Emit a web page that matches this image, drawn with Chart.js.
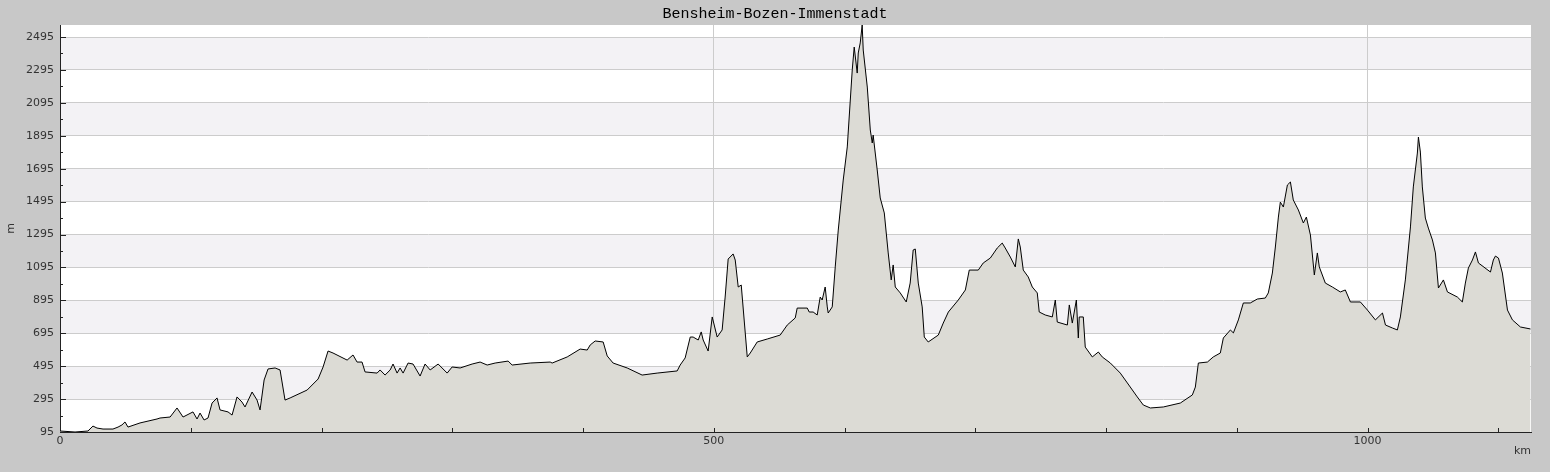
<!DOCTYPE html>
<html>
<head>
<meta charset="utf-8">
<title>Bensheim-Bozen-Immenstadt</title>
<script src="https://cdn.jsdelivr.net/npm/chart.js@4/dist/chart.umd.min.js"></script>
<style>
  html, body { margin: 0; padding: 0; background: #c8c8c8; }
  #wrap { width: 1550px; height: 472px; }
</style>
</head>
<body>
<div id="wrap"><canvas id="profile" width="1550" height="472"></canvas></div>
<script>
// distance along the route (km) and elevation (m)
const distKm = [
  0, 11.5, 21.4, 25.2, 28.3, 32.9, 40.5, 44.4, 47.4, 49.7, 52.0, 61.2, 74.2, 76.5, 84.2, 89.5,
  94.1, 101.7, 104.8, 107.1, 110.2, 113.2, 116.3, 120.1, 122.4, 128.5, 131.6, 135.4, 139.2, 141.5,
  146.9, 150.7, 153.0, 156.1, 159.1, 164.5, 168.3, 172.1, 176.0, 189.0, 197.4, 201.2, 205.0, 208.8,
  219.6, 224.1, 227.2, 231.0, 233.3, 242.5, 244.8, 248.6, 252.5, 254.7, 257.8, 260.1, 262.4, 266.2,
  270.0, 275.4, 279.2, 283.1, 289.2, 296.1, 299.9, 306.0, 315.2, 321.3, 326.7, 332.8, 342.7, 345.8,
  359.6, 374.9, 376.4, 387.9, 397.8, 403.2, 405.5, 409.3, 415.4, 418.5, 423.0, 433.8, 445.2, 456.7,
  472.0, 474.3, 478.1, 482.0, 484.2, 488.1, 490.4, 491.9, 495.7, 498.8, 502.6, 506.4, 508.7, 511.0,
  514.8, 516.4, 518.7, 521.0, 525.6, 527.9, 533.2, 540.9, 550.8, 556.2, 562.3, 563.8, 571.5, 573.0,
  576.0, 579.1, 581.4, 582.9, 585.2, 586.8, 587.5, 590.6, 592.9, 595.2, 599.0, 602.1, 605.9, 607.4,
  609.7, 610.5, 612.0, 613.5, 614.3, 617.4, 619.7, 621.2, 621.9, 625.0, 627.3, 630.4, 633.4, 635.7,
  637.2, 638.8, 642.6, 647.2, 650.2, 652.5, 654.1, 656.4, 659.4, 661.0, 664.0, 671.7, 675.5, 679.4,
  687.0, 692.4, 695.4, 702.3, 706.1, 711.5, 716.8, 720.6, 722.9, 726.8, 730.6, 732.9, 734.4, 736.7,
  740.5, 743.6, 747.4, 748.9, 753.5, 758.9, 761.2, 762.7, 770.4, 771.9, 774.2, 777.3, 778.8, 779.5,
  782.6, 784.1, 789.5, 794.1, 797.1, 803.3, 810.9, 816.3, 823.9, 828.5, 833.9, 843.8, 856.8, 866.0,
  868.3, 870.6, 877.5, 882.0, 887.4, 889.7, 895.1, 897.4, 901.2, 905.0, 910.3, 915.7, 921.8, 924.1,
  927.2, 929.5, 931.8, 933.3, 935.6, 938.7, 941.0, 943.2, 947.1, 950.9, 953.2, 956.3, 959.3, 961.6,
  963.1, 967.7, 973.1, 979.2, 983.0, 986.9, 994.5, 999.9, 1006.0, 1011.4, 1013.7, 1019.0, 1022.8,
  1025.1, 1028.9, 1032.8, 1035.0, 1038.1, 1038.9, 1040.4, 1041.9, 1044.2, 1046.5, 1049.6, 1051.9,
  1054.2, 1058.0, 1061.1, 1068.7, 1072.5, 1074.8, 1077.1, 1080.2, 1082.5, 1084.8, 1094.0, 1096.2,
  1097.8, 1100.1, 1103.1, 1107.0, 1110.8, 1116.9, 1124.6
];
const elevM = [
  101, 95, 101, 131, 119, 113, 113, 125, 138, 156, 125, 150, 174, 180, 186, 241,
  186, 217, 174, 210, 168, 180, 271, 302, 229, 217, 198, 308, 277, 247,
  338, 289, 229, 411, 478, 484, 472, 289, 302, 350, 417, 490, 587, 575,
  532, 563, 520, 520, 460, 453, 472, 441, 472, 508, 453, 484, 453, 514,
  508, 435, 508, 472, 508, 453, 490, 484, 508, 520, 502, 514, 526, 502,
  514, 520, 514, 551, 599, 593, 624, 648, 642, 557, 514, 484, 441, 453,
  466, 502, 545, 672, 672, 654, 703, 654, 587, 794, 672, 715, 915, 1146,
  1177, 1140, 976, 988, 551, 575, 642, 660, 684, 745, 788, 848, 848, 824,
  824, 806, 915, 897, 976, 855, 818, 855, 1098, 1322, 1626, 1827, 2295, 2434,
  2276, 2398, 2459, 2568, 2416, 2191, 1930, 1851, 1899, 1687, 1517, 1426, 1183, 1019,
  1110, 976, 940, 885, 1000, 1201, 1207, 1000, 855, 672, 642, 684, 757, 824,
  897, 958, 1079, 1079, 1122, 1152, 1213, 1243, 1213, 1158, 1098, 1268, 1219, 1079,
  1037, 976, 940, 824, 806, 794, 897, 763, 745, 867, 757, 897, 666, 794,
  794, 611, 551, 581, 551, 514, 453, 393, 308, 259, 241, 247, 271, 320,
  368, 514, 520, 551, 575, 666, 715, 697, 776, 879, 879, 903, 909, 940,
  1061, 1219, 1401, 1492, 1462, 1596, 1614, 1505, 1444, 1365, 1401, 1292, 1049, 1183,
  1098, 1000, 976, 946, 958, 885, 885, 836, 776, 818, 745, 727, 715,
  794, 1019, 1341, 1584, 1790, 1887, 1796, 1584, 1395, 1334, 1262, 1183,
  970, 1019, 946, 915, 885, 1000, 1091, 1140, 1189, 1122, 1067, 1140,
  1164, 1152, 1061, 836, 776, 733, 721
];
const yTicks = [95, 295, 495, 695, 895, 1095, 1295, 1495, 1695, 1895, 2095, 2295, 2495];
const xLabelTicks = [0, 500, 1000];
const xMinorStep = 100;
const xMax = 1125;

const bandPlugin = {
  id: 'bands',
  beforeDraw(chart) {
    const { ctx, chartArea: a, scales: { y } } = chart;
    ctx.save();
    ctx.fillStyle = '#ffffff';
    ctx.fillRect(a.left, a.top, a.right - a.left, a.bottom - a.top);
    ctx.fillStyle = '#f3f2f5';
    for (let i = 1; i < yTicks.length - 1; i += 2) {
      const top = y.getPixelForValue(yTicks[i + 1]);
      const bot = y.getPixelForValue(yTicks[i]);
      ctx.fillRect(a.left, top, a.right - a.left, bot - top);
    }
    ctx.restore();
  }
};

// tick marks drawn inside the plot, like the original
const innerTicks = {
  id: 'innerTicks',
  afterDraw(chart) {
    const { ctx, chartArea: a, scales: { x, y } } = chart;
    ctx.save();
    ctx.strokeStyle = '#222';
    ctx.lineWidth = 1;
    ctx.beginPath();
    for (let v = yTicks[0]; v <= y.max; v += 100) {
      const py = Math.round(y.getPixelForValue(v)) + 0.5;
      const len = (v - yTicks[0]) % 200 === 0 ? 6 : 3;
      ctx.moveTo(a.left, py);
      ctx.lineTo(a.left + len, py);
    }
    for (let v = xMinorStep; v <= x.max; v += xMinorStep) {
      const px = Math.round(x.getPixelForValue(v)) + 0.5;
      ctx.moveTo(px, a.bottom);
      ctx.lineTo(px, a.bottom - 4);
    }
    ctx.stroke();
    ctx.restore();
  }
};

const ctx = document.getElementById('profile').getContext('2d');
new Chart(ctx, {
  type: 'line',
  data: {
    datasets: [{
      data: distKm.map((d, i) => ({ x: d, y: elevM[i] })),
      borderColor: '#000000',
      borderWidth: 1,
      backgroundColor: '#dcdbd5',
      fill: 'start',
      pointRadius: 0,
      tension: 0
    }]
  },
  options: {
    responsive: false,
    animation: false,
    devicePixelRatio: 1,
    layout: { padding: 0 },
    plugins: {
      legend: { display: false },
      tooltip: { enabled: false },
      title: {
        display: true,
        text: 'Bensheim-Bozen-Immenstadt',
        color: '#000',
        font: { family: 'Liberation Mono', size: 15, weight: 'normal' },
        padding: { top: 5, bottom: 2 }
      }
    },
    scales: {
      x: {
        type: 'linear',
        min: 0,
        max: xMax,
        afterBuildTicks: s => { s.ticks = xLabelTicks.map(v => ({ value: v })); },
        afterFit: s => { s.height = 40; },
        grid: {
          color: c => (c.tick && c.tick.value > 0 ? '#cccccc' : 'rgba(0,0,0,0)'),
          drawTicks: false
        },
        border: { color: '#222', width: 1 },
        ticks: {
          color: '#333',
          padding: 3,
          maxRotation: 0,
          callback: v => String(v),
          font: { family: 'DejaVu Sans', size: 11 }
        },
        title: {
          display: true,
          text: 'km',
          align: 'end',
          color: '#333',
          padding: { top: 0, bottom: 14 },
          font: { family: 'DejaVu Sans', size: 11 }
        }
      },
      y: {
        type: 'linear',
        min: yTicks[0],
        max: Math.max(...elevM),
        afterBuildTicks: s => { s.ticks = yTicks.map(v => ({ value: v })); },
        afterFit: s => { s.width = 60; },
        grid: { color: '#cccccc', drawTicks: false },
        border: { color: '#222', width: 1 },
        ticks: {
          color: '#333',
          padding: 6,
          callback: v => String(v),
          font: { family: 'DejaVu Sans', size: 11 }
        },
        title: {
          display: true,
          text: 'm',
          color: '#333',
          padding: { top: 5, bottom: 0 },
          font: { family: 'DejaVu Sans', size: 11 }
        }
      },
      // empty strip on the right so the plot ends where the original does
      spacer: {
        type: 'linear',
        position: 'right',
        display: true,
        afterFit: s => { s.width = 19; },
        grid: { display: false },
        border: { display: false },
        ticks: { display: false }
      }
    }
  },
  plugins: [bandPlugin, innerTicks]
});
</script>
</body>
</html>
